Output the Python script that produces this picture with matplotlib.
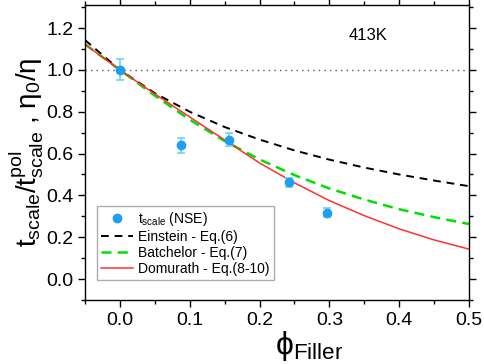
import numpy as np
import matplotlib
matplotlib.use("Agg")
import matplotlib.pyplot as plt
from matplotlib.lines import Line2D
from matplotlib.ticker import MultipleLocator, FormatStrFormatter

plt.rcParams['font.family'] = ['Liberation Sans', 'DejaVu Sans']
plt.rcParams['mathtext.fontset'] = 'custom'
plt.rcParams['mathtext.rm'] = 'Liberation Sans'
plt.rcParams['mathtext.it'] = 'Liberation Sans'
plt.rcParams['mathtext.bf'] = 'Liberation Sans:bold'

# NSE data
phi_nse = [0.0, 0.087, 0.156, 0.242, 0.296]
t_nse = [1.0, 0.64, 0.667, 0.462, 0.318]
t_err = [0.05, 0.035, 0.03, 0.022, 0.02]

# model curves
phi_model = [-0.05, 0.0, 0.05, 0.10, 0.15, 0.20, 0.25, 0.30, 0.35, 0.40, 0.45, 0.50]
einstein = [1.143, 1.000, 0.889, 0.800, 0.727, 0.667, 0.615, 0.571, 0.533, 0.500, 0.471, 0.444]
batchelor = [1.123, 1.000, 0.877, 0.762, 0.660, 0.572, 0.497, 0.433, 0.380, 0.334, 0.296, 0.263]
domurath = [1.122, 1.000, 0.885, 0.775, 0.665, 0.555, 0.460, 0.375, 0.303, 0.240, 0.187, 0.143]

fig = plt.figure(figsize=(4.84, 3.64), dpi=100)
ax = fig.add_axes([0.1756, 0.176, 0.7934, 0.810])

ax.axhline(1.0, color='#555555', ls=(0, (1, 3)), lw=1.0)
l_ein, = ax.plot(phi_model, einstein, color='black', ls=(0, (4, 3)), lw=1.4)
l_bat, = ax.plot(phi_model, batchelor, color='#00E000', ls=(0, (4, 2.5)), lw=1.8)
l_dom, = ax.plot(phi_model, domurath, color='#FF3030', lw=1.1)
ax.errorbar(phi_nse, t_nse, yerr=t_err, fmt='o', color='#1E9FEF', ecolor='#6FD3F5',
            ms=6, elinewidth=1.2, capsize=3, capthick=1.2, zorder=5)
pt = Line2D([], [], ls='none', marker='o', ms=6, color='#1E9FEF')

ax.set_xlim(-0.05, 0.5)
ax.set_ylim(-0.1, 1.31)
ax.xaxis.set_major_locator(MultipleLocator(0.1))
ax.xaxis.set_minor_locator(MultipleLocator(0.05))
ax.yaxis.set_major_locator(MultipleLocator(0.2))
ax.yaxis.set_minor_locator(MultipleLocator(0.1))
ax.xaxis.set_major_formatter(FormatStrFormatter('%.1f'))
ax.yaxis.set_major_formatter(FormatStrFormatter('%.1f'))
ax.tick_params(which='both', direction='out', top=True, right=True, labelsize=14, width=1.0)
ax.tick_params(which='major', length=5)
ax.tick_params(which='minor', length=3)
for s in ax.spines.values():
    s.set_linewidth(1.0)

ax.set_xlabel(r'$\mathrm{\phi_{Filler}}$', fontsize=23)
ax.xaxis.set_label_coords(0.585, -0.1)
ax.set_ylabel(r'$\mathrm{t_{scale}/t_{scale}^{pol}}$ , $\mathrm{\eta_0/\eta}$', fontsize=20, labelpad=0)

ax.text(0.355, 1.165, '413K', fontsize=12, ha='center', va='center')

leg = ax.legend([pt, l_ein, l_bat, l_dom],
                [r'$\mathrm{t_{scale}}$ (NSE)', 'Einstein - Eq.(6)', 'Batchelor - Eq.(7)',
                 'Domurath - Eq.(8-10)'],
                loc='lower left', bbox_to_anchor=(0.03, 0.067), fontsize=10, frameon=True,
                fancybox=False, edgecolor='#999999', handlelength=2.3, borderpad=0.3,
                labelspacing=0.15, handletextpad=0.4, borderaxespad=0)
leg.get_frame().set_linewidth(1.0)

fig.savefig('out.png', dpi=100)
